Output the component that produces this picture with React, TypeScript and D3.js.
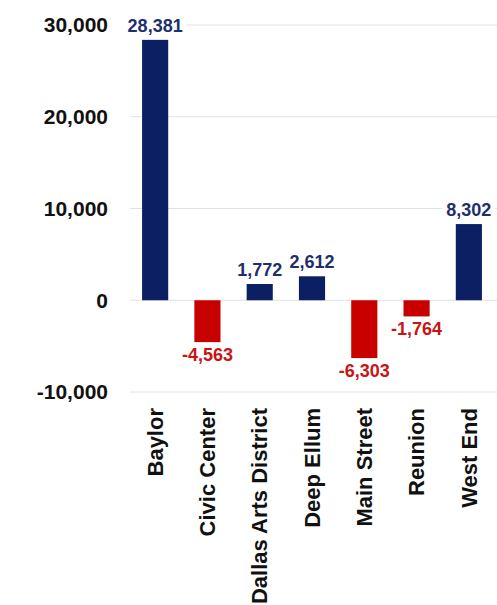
import React from "react";
import * as d3 from "d3";

const categories = ["Baylor", "Civic Center", "Dallas Arts District", "Deep Ellum", "Main Street", "Reunion", "West End"];
const values = [28381, -4563, 1772, 2612, -6303, -1764, 8302];
const yTicks = [-10000, 0, 10000, 20000, 30000];

const W = 497;
const H = 605;

export default function App() {
  const x = d3.scaleBand<string>().domain(categories).range([129, 495]).paddingInner(0.5).paddingOuter(0.25);
  const y = d3.scaleLinear().domain([-10000, 30000]).range([392, 25]);
  const locale = d3.formatLocale({ decimal: ".", thousands: ",", grouping: [3], currency: ["$", ""], minus: "-" });
  const fmt = locale.format(",");
  const font = "'Liberation Sans', Arial, Helvetica, sans-serif";
  const navy = "#0d1f63";
  const navyText = "#1f2f6e";
  const red = "#c80000";
  const redText = "#c81414";

  return (
    <div style={{ position: "absolute", left: 0, top: 0 }}>
      <svg width={W} height={H} style={{ display: "block", background: "#fff" }} fontFamily={font}>
        {yTicks.map((t) => (
          <g key={t}>
            <line x1={130} x2={W} y1={y(t)} y2={y(t)} stroke="#e2e2e2" strokeWidth={1} />
            <text x={108} y={y(t)} dy="0.35em" textAnchor="end" fontSize={21} fontWeight="bold" fill="#111">
              {fmt(t)}
            </text>
          </g>
        ))}
        {categories.map((c, i) => {
          const v = values[i];
          const bx = x(c)!;
          const bw = x.bandwidth();
          const cx = bx + bw / 2;
          const top = y(Math.max(0, v));
          const bot = y(Math.min(0, v));
          const pos = v >= 0;
          const label = fmt(v);
          const ly = pos ? top - 8 : bot + 19;
          const lw = label.length * 10.5;
          return (
            <g key={c}>
              <rect x={bx} y={top} width={bw} height={bot - top} fill={pos ? navy : red} />
              <rect x={cx - lw / 2} y={ly - 15} width={lw} height={19} fill="#fff" />
              <text x={cx} y={ly} textAnchor="middle" fontSize={18} fontWeight="bold" fill={pos ? navyText : redText}>
                {label}
              </text>
              <text
                transform={`translate(${cx},408) rotate(-90)`}
                dy="0.35em"
                textAnchor="end"
                fontSize={22}
                fontWeight="bold"
                fill="#111"
              >
                {c}
              </text>
            </g>
          );
        })}
      </svg>
    </div>
  );
}
